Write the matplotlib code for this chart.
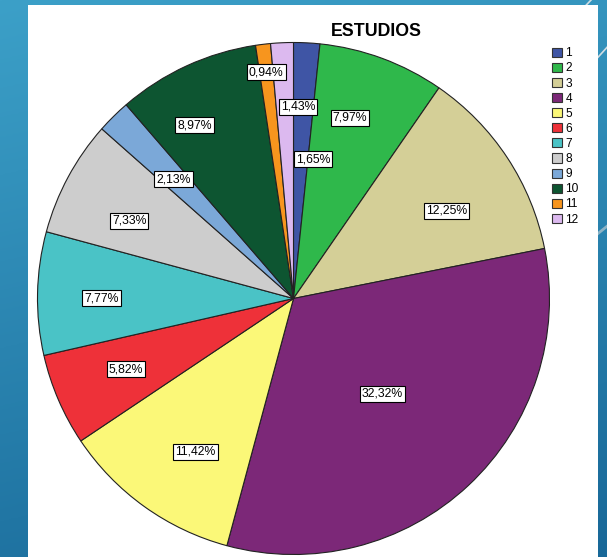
import numpy as np
import matplotlib
matplotlib.use("Agg")
import matplotlib.pyplot as plt
from matplotlib.patches import Rectangle, Patch

plt.rcParams['font.family'] = ['Liberation Sans', 'DejaVu Sans']

categories = ['1', '2', '3', '4', '5', '6', '7', '8', '9', '10', '11', '12']
values = [1.65, 7.97, 12.25, 32.32, 11.42, 5.82, 7.77, 7.33, 2.13, 8.97, 0.94, 1.43]
pct_labels = ['1,65%', '7,97%', '12,25%', '32,32%', '11,42%', '5,82%',
              '7,77%', '7,33%', '2,13%', '8,97%', '0,94%', '1,43%']
label_radius = [0.55, 0.74, 0.69, 0.51, 0.71, 0.71, 0.75, 0.71, 0.66, 0.78, 0.89, 0.75]
label_angle_shift = [-5, 3, -3.5, 0, 3, -0.5, 1, 3, 0.5, 5, 0, -4]
colors = ['#3f55a5', '#2fb84b', '#d4cf97', '#7c2878', '#fbf878', '#ee3139',
          '#4ac3c6', '#cdcdcd', '#7ba8d8', '#0d5531', '#f7951e', '#dcb9ef']

W, H = 607, 557
fig = plt.figure(figsize=(W / 100, H / 100), dpi=100)

# background gradient
bg = fig.add_axes([0, 0, 1, 1], zorder=-10)
yy = np.linspace(0, 1, 200)[:, None]
xx = np.linspace(0, 1, 200)[None, :]
top = np.array([0x3c, 0xa0, 0xc8]) / 255
bot = np.array([0x18, 0x68, 0x98]) / 255
t = (yy * 0.8 + xx * 0.2)
img = top[None, None, :] * (1 - t[..., None]) + bot[None, None, :] * t[..., None]
bg.imshow(img, extent=[0, 1, 0, 1], aspect='auto', origin='upper')
for x0 in [0.95, 1.02]:
    bg.plot([x0, x0 + 0.08], [0.55 + (x0 - 0.95) * 3, 0.62 + (x0 - 0.95) * 3],
            color='#b8c8d0', lw=2, alpha=0.7)
bg.plot([0.965, 1.0], [0.99, 1.03], color='#d0dde3', lw=1.2)
bg.plot([0.975, 1.0], [0.885, 0.915], color='#d0dde3', lw=1.2)
bg.set_xlim(0, 1)
bg.set_ylim(0, 1)
bg.axis('off')
fig.patches.append(Rectangle((28 / W, 0), (598 - 28) / W, 1 - 5 / H,
                             transform=fig.transFigure, facecolor='white',
                             edgecolor='none', zorder=-5))

cx, cy, R = 293.5, 298.5, 256
ax = fig.add_axes([(cx - R) / W, (H - cy - R) / H, 2 * R / W, 2 * R / H])
wedges, _ = ax.pie(values, colors=colors, startangle=90, counterclock=False,
                   radius=1, wedgeprops=dict(edgecolor='#222222', linewidth=0.8))
for w in wedges:
    w.set_clip_on(False)

cum = np.cumsum([0] + values[:-1])
for v, c, lab, r, s in zip(values, cum, pct_labels, label_radius, label_angle_shift):
    ang = np.deg2rad(90 - (c + v / 2) * 3.6 + s)
    ax.text(r * np.cos(ang), r * np.sin(ang), lab, ha='center', va='center',
            fontsize=8.8, color='black',
            bbox=dict(boxstyle='square,pad=0.16', facecolor='white',
                      edgecolor='black', linewidth=0.8))
ax.set_xlim(-1, 1)
ax.set_ylim(-1, 1)
ax.set_aspect('auto')
ax.axis('off')

fig.text(376 / W, 1 - 31 / H, 'ESTUDIOS', ha='center', va='center',
         fontsize=12.8, fontweight='bold')

handles = [Patch(facecolor=c, edgecolor='#333333', linewidth=0.8) for c in colors]
fig.legend(handles, categories, loc='upper left',
           bbox_to_anchor=(550 / W, 1 - 45 / H), frameon=False, fontsize=8.6,
           handlelength=0.8, handleheight=0.8, handletextpad=0.3,
           labelspacing=0.26, borderpad=0.2, borderaxespad=0)

fig.savefig('out.png', dpi=100)
